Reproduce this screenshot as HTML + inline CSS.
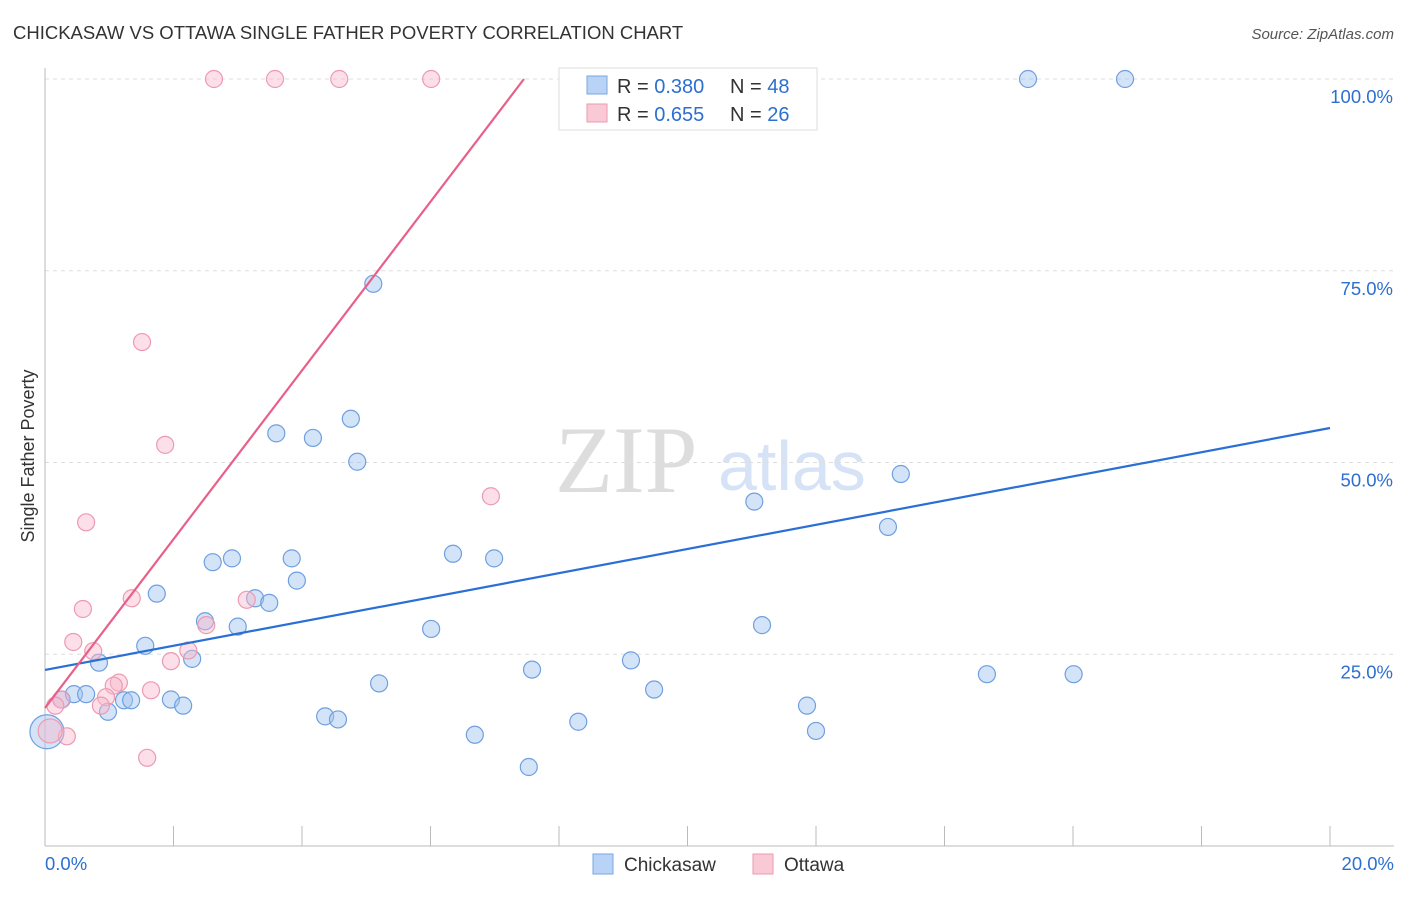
<!DOCTYPE html>
<html><head><meta charset="utf-8"><style>
body{margin:0;background:#fff;font-family:"Liberation Sans",sans-serif;}
</style></head><body>
<svg width="1406" height="892" id="c">
<text x="13" y="39" font-size="18.5" fill="#333">CHICKASAW VS OTTAWA SINGLE FATHER POVERTY CORRELATION CHART</text>
<text x="1394" y="39" font-size="15" fill="#555" font-style="italic" text-anchor="end">Source: ZipAtlas.com</text>
<text x="34" y="456" font-size="18" fill="#333" transform="rotate(-90 34 456)" text-anchor="middle">Single Father Poverty</text>
<text x="555" y="492" font-size="95" fill="#ddd" font-family="Liberation Serif">ZIP</text>
<text x="718" y="490" font-size="70" fill="#d6e2f5">atlas</text>
<g id="grid"></g><g id="pts"></g><g id="lines"></g>
<g>
<rect x="559" y="68" width="258" height="62" fill="#fff" stroke="#ddd"/>
<rect x="587" y="76" width="20" height="18" fill="#b8d3f5" stroke="#7aa7e0"/>
<text x="617" y="93" font-size="20" fill="#333">R = <tspan fill="#2d6fd0">0.380</tspan></text>
<text x="730" y="93" font-size="20" fill="#333">N = <tspan fill="#2d6fd0">48</tspan></text>
<rect x="587" y="104" width="20" height="18" fill="#f9c9d6" stroke="#e99ab0"/>
<text x="617" y="121" font-size="20" fill="#333">R = <tspan fill="#2d6fd0">0.655</tspan></text>
<text x="730" y="121" font-size="20" fill="#333">N = <tspan fill="#2d6fd0">26</tspan></text>
</g>
<g>
<rect x="593" y="854" width="20" height="20" fill="#b8d3f5" stroke="#7aa7e0"/>
<text x="624" y="871" font-size="19" fill="#333">Chickasaw</text>
<rect x="753" y="854" width="20" height="20" fill="#f9c9d6" stroke="#e99ab0"/>
<text x="784" y="871" font-size="19" fill="#333">Ottawa</text>
</g>
</svg>
<script>
const yTicks=[25,50,75,100];
const xTickLabels=["0.0%","20.0%"];
const blueX=[0.26,0.45,0.64,0.84,0.98,1.23,1.34,1.56,1.74,1.96,2.15,2.29,2.49,2.61,2.91,3.00,3.27,3.49,3.60,3.84,3.92,4.17,4.36,4.56,4.76,4.86,5.11,5.20,6.01,6.35,6.69,6.99,7.53,7.58,8.30,9.12,9.48,11.04,11.16,11.86,12.00,13.12,13.32,14.66,15.30,16.01,16.81,0.03];
const blueY=[19.1,19.8,19.8,23.9,17.5,19.0,19.0,26.1,32.9,19.1,18.3,24.4,29.3,37.0,37.5,28.6,32.3,31.7,53.8,37.5,34.6,53.2,16.9,16.5,55.7,50.1,73.3,21.2,28.3,38.1,14.5,37.5,10.3,23.0,16.2,24.2,20.4,44.9,28.8,18.3,15.0,41.6,48.5,22.4,100,22.4,100,14.9];
const pinkX=[2.63,3.58,4.58,6.01,1.51,1.87,0.64,6.94,0.59,0.44,1.35,3.14,2.51,0.75,2.23,1.96,1.15,1.07,1.65,0.95,0.87,0.25,0.16,0.34,1.59,0.08];
const pinkY=[100,100,100,100,65.7,52.3,42.2,45.6,30.9,26.6,32.3,32.1,28.8,25.4,25.5,24.1,21.3,20.9,20.3,19.4,18.3,19.1,18.3,14.3,11.5,15.0];
const blueLine=[22.95,54.5];
const pinkLine=[18.0,11.0];
const X=v=>45+v/20*1285, Y=v=>846-v/100*767;
const NS="http://www.w3.org/2000/svg";
function mk(t,a,p){const e=document.createElementNS(NS,t);for(const k in a)e.setAttribute(k,a[k]);p.appendChild(e);return e;}
const g=document.getElementById('grid'),P=document.getElementById('pts'),L=document.getElementById('lines');
yTicks.forEach(t=>{const l=mk('line',{x1:45,x2:1394,y1:Y(t),y2:Y(t),stroke:'#ddd','stroke-dasharray':'4,4'},g);


const tx=mk('text',{x:1393,y:Y(t)+24,'font-size':18.5,fill:'#2d6fd0','text-anchor':'end'},g);tx.textContent=t.toFixed(1)+'%';

});
const ax=mk('line',{x1:45,x2:1394,y1:846,y2:846,stroke:'#bbb'},g);


const ay=mk('line',{x1:45,x2:45,y1:68,y2:846,stroke:'#bbb'},g);


for(let i=0;i<=10;i++){const tk=mk('line',{x1:X(i*2),x2:X(i*2),y1:826,y2:846,stroke:'#bbb'},g);

}
[[0,'start',45],[1,'end',1394]].forEach(([i,a,x])=>{const t=mk('text',{x:x,y:870,'font-size':18.5,fill:'#2d6fd0','text-anchor':a},g);t.textContent=xTickLabels[i];

});
blueX.forEach((x,i)=>{const c=mk('circle',{cx:X(x),cy:Y(blueY[i]),r:i==47?17:8.5,fill:'rgba(160,195,240,0.45)',stroke:'#6f9fe0','stroke-width':1.2},P);

});
pinkX.forEach((x,i)=>{const c=mk('circle',{cx:X(x),cy:Y(pinkY[i]),r:i==25?12:8.5,fill:'rgba(248,185,205,0.45)',stroke:'#ec9ab2','stroke-width':1.2},P);

});
const bl=mk('line',{x1:X(0),y1:Y(blueLine[0]),x2:X(20),y2:Y(blueLine[1]),stroke:'#2a6fd6','stroke-width':2.2},L);


const xe=(100-pinkLine[0])/pinkLine[1];
const pl=mk('line',{x1:X(0),y1:Y(pinkLine[0]),x2:X(xe),y2:Y(100),stroke:'#e8608a','stroke-width':2.2},L);


</script>
</body></html>
